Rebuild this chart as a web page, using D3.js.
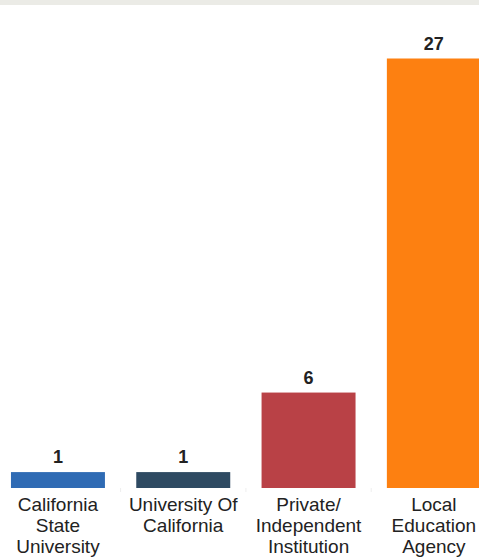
<!DOCTYPE html>
<html>
<head>
<meta charset="utf-8">
<script src="https://cdn.jsdelivr.net/npm/d3@7"></script>
<style>
  body { margin: 0; background: #fff; overflow: hidden; }
</style>
</head>
<body>
<script>
const width = 479;
const height = 558;
const baseline = 488;
const plotTop = 58.5;

const categories = ["California State University", "University Of California", "Private/ Independent Institution", "Local Education Agency"];
const labelLines = [["California", "State", "University"], ["University Of", "California"], ["Private/", "Independent", "Institution"], ["Local", "Education", "Agency"]];
const values = [1, 1, 6, 27];
const colors = ["#2f6bb4", "#2e4a62", "#b94146", "#fd8011"];

const svg = d3.select("body")
    .append("svg")
    .attr("width", width)
    .attr("height", height);

// top grey strip
svg.append("rect")
    .attr("x", 0)
    .attr("y", 0)
    .attr("width", width)
    .attr("height", 5)
    .attr("fill", "#ebebe6");

const x = d3.scaleBand()
    .domain(categories)
    .range([-4.7, 496.5])
    .paddingInner(0.25)
    .paddingOuter(0.125);

const y = d3.scaleLinear()
    .domain([0, 27])
    .range([baseline, plotTop]);

//faint ticks between bands
svg.selectAll(".tick")
    .data(categories.slice(1))
    .enter()
    .append("line")
    .attr("x1", d => x(d) - x.step() * x.paddingInner() / 2)
    .attr("x2", d => x(d) - x.step() * x.paddingInner() / 2)
    .attr("y1", baseline)
    .attr("y2", baseline + 4)
    .attr("stroke", "#eeeeee")
    .attr("stroke-width", 1);

svg.selectAll(".bar")
    .data(categories)
    .enter()
    .append("rect")
    .attr("class", "bar")
    .attr("x", d => x(d))
    .attr("y", (d, i) => y(values[i]))
    .attr("width", x.bandwidth())
    .attr("height", (d, i) => y(0) - y(values[i]))
    .attr("fill", (d, i) => colors[i]);

svg.selectAll(".value")
    .data(categories)
    .enter()
    .append("text")
    .attr("class", "value")
    .attr("x", d => x(d) + x.bandwidth() / 2)
    .attr("y", (d, i) => y(values[i]) - 9)
    .attr("text-anchor", "middle")
    .attr("font-family", "Liberation Sans, Arial, sans-serif")
    .attr("font-weight", "bold")
    .attr("font-size", 18)
    .attr("fill", "#222")
    .text((d, i) => values[i]);

const labels = svg.selectAll(".cat")
    .data(categories)
    .enter()
    .append("text")
    .attr("class", "cat")
    .attr("text-anchor", "middle")
    .attr("font-family", "Liberation Sans, Arial, sans-serif")
    .attr("font-size", 19)
    .attr("fill", "#222");

labels.selectAll("tspan")
    .data((d, i) => labelLines[i].map(t => ({t, cx: x(d) + x.bandwidth() / 2})))
    .enter()
    .append("tspan")
    .attr("x", d => d.cx)
    .attr("y", (d, j) => 511 + j * 21)
    .text(d => d.t);
</script>
</body>
</html>
